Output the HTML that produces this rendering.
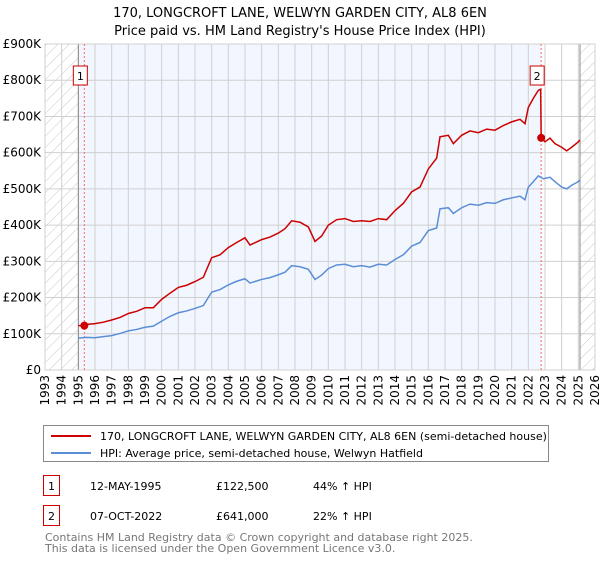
<!DOCTYPE html>
<html><head><meta charset="utf-8"><style>
body{margin:0;background:#fff;font-family:"Liberation Sans","DejaVu Sans",sans-serif;}
svg text{font-family:"DejaVu Sans","Liberation Sans",sans-serif;}
</style></head><body>
<svg id="chart" width="600" height="560" viewBox="0 0 600 560" xmlns="http://www.w3.org/2000/svg">
<defs>
<pattern id="hatch" width="8" height="8" patternUnits="userSpaceOnUse" patternTransform="rotate(45)">
<line x1="0" y1="0" x2="0" y2="8" stroke="#c8c8c8" stroke-width="1"/>
</pattern>
</defs>
<text x="300" y="17" text-anchor="middle" font-size="13" fill="#000">170, LONGCROFT LANE, WELWYN GARDEN CITY, AL8 6EN</text>
<text x="300" y="35" text-anchor="middle" font-size="13" fill="#000">Price paid vs. HM Land Registry's House Price Index (HPI)</text>
<g id="plot"></g>
<g>
<rect x="43.5" y="425.5" width="505" height="36" fill="#fff" stroke="#888"/>
<line x1="51" y1="436" x2="91" y2="436" stroke="#cc0000" stroke-width="2"/>
<text x="100" y="440" font-size="11">170, LONGCROFT LANE, WELWYN GARDEN CITY, AL8 6EN (semi-detached house)</text>
<line x1="51" y1="453" x2="91" y2="453" stroke="#5b8ed6" stroke-width="2"/>
<text x="100" y="457" font-size="11">HPI: Average price, semi-detached house, Welwyn Hatfield</text>
</g>
<g>
<rect x="43.5" y="475.5" width="16" height="20" fill="#fff" stroke="#cc0000"/>
<text x="51.5" y="490" font-size="11" text-anchor="middle">1</text>
<text x="90" y="490" font-size="11">12-MAY-1995</text>
<text x="216" y="490" font-size="11">£122,500</text>
<text x="313" y="490" font-size="11">44% ↑ HPI</text>
<rect x="43.5" y="505.5" width="16" height="20" fill="#fff" stroke="#cc0000"/>
<text x="51.5" y="520" font-size="11" text-anchor="middle">2</text>
<text x="90" y="520" font-size="11">07-OCT-2022</text>
<text x="216" y="520" font-size="11">£641,000</text>
<text x="313" y="520" font-size="11">22% ↑ HPI</text>
</g>
<text x="45" y="541" font-size="11" fill="#777">Contains HM Land Registry data © Crown copyright and database right 2025.</text>
<text x="45" y="552" font-size="11" fill="#777">This data is licensed under the Open Government Licence v3.0.</text>
</svg>
<script>
const yTicks=[0,100000,200000,300000,400000,500000,600000,700000,800000,900000];
const yTickLabels=["£0","£100K","£200K","£300K","£400K","£500K","£600K","£700K","£800K","£900K"];
const xYears=[1993,1994,1995,1996,1997,1998,1999,2000,2001,2002,2003,2004,2005,2006,2007,2008,2009,2010,2011,2012,2013,2014,2015,2016,2017,2018,2019,2020,2021,2022,2023,2024,2025,2026];
const hpiDates=[1995.0,1995.5,1996,1996.5,1997,1997.5,1998,1998.5,1999,1999.5,2000,2000.5,2001,2001.5,2002,2002.5,2003,2003.5,2004,2004.5,2005,2005.3,2006,2006.5,2007,2007.4,2007.8,2008.3,2008.8,2009.2,2009.6,2010,2010.5,2011,2011.5,2012,2012.5,2013,2013.5,2014,2014.5,2015,2015.5,2016,2016.5,2016.7,2017.2,2017.5,2018,2018.5,2019,2019.5,2020,2020.5,2021,2021.5,2021.8,2022,2022.3,2022.6,2022.9,2023.3,2023.6,2024,2024.3,2024.6,2025,2025.1];
const hpiValues=[88000,90000,89000,92000,95000,101000,108000,112000,118000,121000,135000,148000,158000,163000,170000,178000,215000,222000,235000,245000,252000,240000,250000,255000,263000,270000,288000,285000,278000,250000,262000,280000,290000,292000,285000,288000,284000,292000,290000,305000,318000,342000,352000,385000,392000,445000,448000,432000,448000,458000,455000,462000,460000,470000,475000,480000,470000,505000,520000,536000,528000,532000,520000,505000,500000,510000,520000,525000];
const priceDates=[1995.0,1995.36,1995.5,1996,1996.5,1997,1997.5,1998,1998.5,1999,1999.5,2000,2000.5,2001,2001.5,2002,2002.5,2003,2003.5,2004,2004.5,2005,2005.3,2006,2006.5,2007,2007.4,2007.8,2008.3,2008.8,2009.2,2009.6,2010,2010.5,2011,2011.5,2012,2012.5,2013,2013.5,2014,2014.5,2015,2015.5,2016,2016.5,2016.7,2017.2,2017.5,2018,2018.5,2019,2019.5,2020,2020.5,2021,2021.5,2021.8,2022,2022.3,2022.6,2022.74,2022.77,2023.0,2023.3,2023.6,2024,2024.3,2024.6,2025,2025.1];
const priceValues=[122500,122500,126000,128000,132000,138000,145000,156000,162000,172000,172000,195000,212000,228000,234000,244000,256000,310000,318000,338000,352000,365000,345000,360000,367000,378000,390000,412000,408000,395000,355000,370000,400000,415000,418000,410000,412000,410000,418000,415000,440000,460000,492000,505000,555000,585000,644000,648000,625000,648000,660000,655000,665000,662000,675000,685000,692000,680000,725000,750000,772000,775000,641000,630000,640000,625000,615000,605000,615000,630000,635000];
const sales=[{label:"1",date:1995.36,value:122500},{label:"2",date:2022.77,value:641000}];
const X0=45,X1=595,Y0=370,Y1=44;
const xMin=1993,xMax=2026,yMax=900000;
const sx=v=>X0+(v-xMin)/(xMax-xMin)*(X1-X0);
const sy=v=>Y0-v/yMax*(Y0-Y1);
const NS="http://www.w3.org/2000/svg";
const g=document.getElementById('plot');
function mk(t,a,p){const e=document.createElementNS(NS,t);for(const k in a)e.setAttribute(k,a[k]);(p||g).appendChild(e);return e;}
let e;
e=mk('rect',{x:X0,y:Y1,width:X1-X0,height:Y0-Y1,fill:'#fff'});


e=mk('rect',{x:sx(1995),y:Y1,width:sx(2022.77)-sx(1995),height:Y0-Y1,fill:'#f2f6fe'});


e=mk('rect',{x:X0,y:Y1,width:sx(1995)-X0,height:Y0-Y1,fill:'url(#hatch)'});


e=mk('rect',{x:sx(2025.1),y:Y1,width:X1-sx(2025.1),height:Y0-Y1,fill:'url(#hatch)'});


yTicks.forEach((v,i)=>{
 e=mk('line',{x1:X0,x2:X1,y1:sy(v),y2:sy(v),stroke:'#d0d0d0','stroke-width':1});
 
 
 e=mk('text',{x:X0-4,y:sy(v)+4,'text-anchor':'end','font-size':12,fill:'#000'});
 e.textContent=yTickLabels[i];
 
 
});
xYears.forEach(y=>{
 e=mk('line',{x1:sx(y),x2:sx(y),y1:Y1,y2:Y0,stroke:'#d0d0d0','stroke-width':1});
 
 
 e=mk('text',{x:0,y:0,'text-anchor':'end','font-size':12,fill:'#000',transform:`translate(${sx(y)+4},${Y0+5}) rotate(-90)`});
 e.textContent=y;
 
 
});
e=mk('line',{x1:sx(1995),x2:sx(1995),y1:Y1,y2:Y0,stroke:'#888','stroke-width':1});


e=mk('line',{x1:sx(2025.1),x2:sx(2025.1),y1:Y1,y2:Y0,stroke:'#888','stroke-width':1});


e=mk('rect',{x:X0,y:Y1,width:X1-X0,height:Y0-Y1,fill:'none',stroke:'#d0d0d0'});


sales.forEach(s=>{
 e=mk('line',{x1:sx(s.date),x2:sx(s.date),y1:Y1,y2:Y0,stroke:'#ff6666','stroke-width':1,'stroke-dasharray':'2,2'});
 
 
});
e=mk('polyline',{points:hpiDates.map((d,i)=>sx(d)+','+sy(hpiValues[i])).join(' '),fill:'none',stroke:'#5b8ed6','stroke-width':1.5});


e=mk('polyline',{points:priceDates.map((d,i)=>sx(d)+','+sy(priceValues[i])).join(' '),fill:'none',stroke:'#cc0000','stroke-width':1.5});


sales.forEach(s=>{
 e=mk('circle',{cx:sx(s.date),cy:sy(s.value),r:4,fill:'#cc0000'});
 
 
 const bx=sx(s.date)-6-5, by=Y1+22;
 e=mk('rect',{x:bx,y:by,width:14,height:19,fill:'#fff',stroke:'#cc0000'});
 
 
 e=mk('text',{x:bx+7,y:by+14,'text-anchor':'middle','font-size':11,fill:'#000'});
 e.textContent=s.label;
 
 
});
</script>
</body></html>
